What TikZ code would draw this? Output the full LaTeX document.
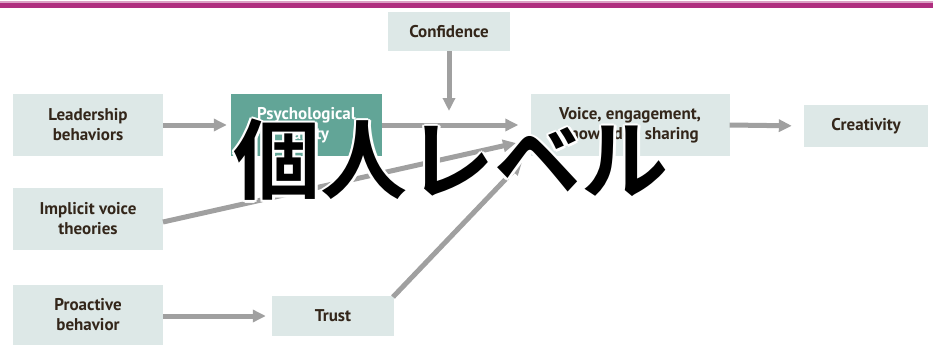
\documentclass[tikz,border=0pt]{standalone}
\usepackage{fontspec}
\setmainfont{PT Sans}
\newfontfamily\cjk{Noto Sans CJK JP}[BoldFont={Noto Sans CJK JP Bold}]
\usetikzlibrary{arrows.meta}
\definecolor{boxfill}{HTML}{DDE8E7}
\definecolor{teal}{HTML}{62A597}
\definecolor{arrgray}{HTML}{A0A0A0}
\definecolor{txt}{HTML}{33261A}
\definecolor{bar}{HTML}{AF2E7F}
\tikzset{
  box/.style={fill=boxfill, draw=none, minimum width=#1, align=center, inner sep=0pt,
    font=\bfseries\fontsize{17}{20}\selectfont, text=txt},
  arr/.style={draw=arrgray, line width=5pt, -{Triangle[length=13pt,width=12pt]}},
  jp/.style={font=\cjk\bfseries\fontsize{87}{90}\selectfont, inner sep=0pt}
}
\begin{document}
\begin{tikzpicture}[x=1pt,y=-1pt]
\useasboundingbox (0,0) rectangle (933,345);
\fill[bar!45] (0,1.5) rectangle (933,3);
\fill[bar] (0,3) rectangle (933,8);
% nodes
\node[box=122pt, minimum height=39pt] (conf) at (449,31.5) {Confidence};
\node[box=150pt, minimum height=62pt] (lead) at (88,125) {Leadership\\behaviors};
\node[box=151pt, minimum height=62pt, fill=teal, text=white] (psych) at (306.5,125) {Psychological\\Safety};
\node[box=199pt, minimum height=62pt] (voice) at (630,125) {Voice, engagement,\\knowledge sharing};
\node[box=124pt, minimum height=42pt] (creat) at (866,126) {Creativity};
\node[box=150pt, minimum height=62pt] (impl) at (88,219) {Implicit voice\\theories};
\node[box=150pt, minimum height=60pt] (proa) at (88,315) {Proactive\\behavior};
\node[box=122pt, minimum height=40pt] (trust) at (333,316) {Trust};
% free ends
\coordinate (confend) at (449,111);
\coordinate (implend) at (516,143);
\coordinate (implstart) at (163,222);
\coordinate (truststart) at (393,297);
\coordinate (trustend) at (522,162);
% connectors
\draw[arr, shorten >=4pt] (lead.east) -- (psych.west);
\draw[arr, shorten >=12pt] (psych.east) -- (voice.west);
\draw[arr] (conf.south) -- (confend);
\draw[arr] (implstart) -- (implend);
\draw[arr] (truststart) -- (trustend);
\draw[arr, shorten >=6pt] (proa.east |- trust.west) -- (trust.west);
\draw[arr, shorten >=12pt] (voice.east) -- (creat.west);
% overlay text with white halo
\foreach \dx/\dy in {2.5/0,-2.5/0,0/2.5,0/-2.5,1.8/1.8,-1.8/1.8,1.8/-1.8,-1.8/-1.8}
  \node[jp, text=white] at ([xshift=\dx pt, yshift=\dy pt]451,160) {個人レベル};
\node[jp, text=black] (jptext) at (451,160) {個人レベル};
\end{tikzpicture}
\end{document}
